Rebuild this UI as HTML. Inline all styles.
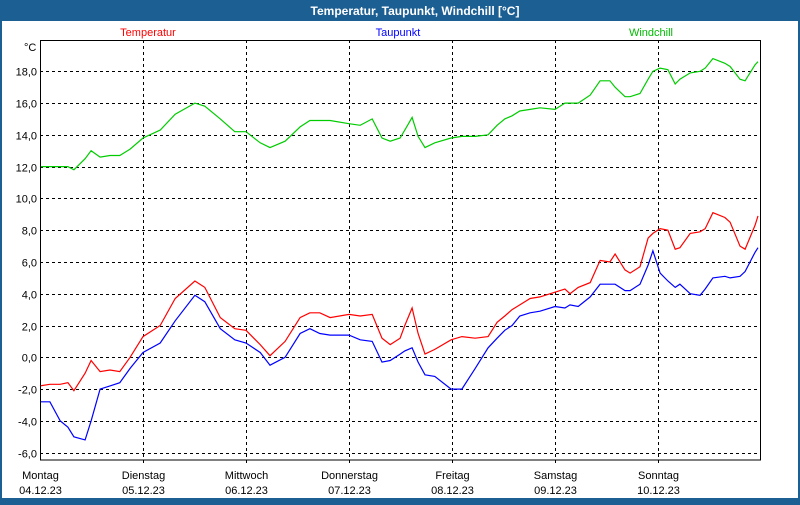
<!DOCTYPE html>
<html><head><meta charset="utf-8"><style>
html,body{margin:0;padding:0;background:#1c5f93;}
body{width:800px;height:500px;overflow:hidden;font-family:"Liberation Sans",sans-serif;}
</style></head><body>
<svg id="c" width="800" height="500" xmlns="http://www.w3.org/2000/svg">
<rect x="0" y="0" width="800" height="500" fill="#1c5f93"/>
<rect x="2" y="21" width="796" height="477" fill="#ffffff"/>
<text x="415" y="15" fill="#fff" font-size="12" font-weight="bold" text-anchor="middle">Temperatur, Taupunkt, Windchill [°C]</text>
<text x="148" y="36" fill="#ff0000" font-size="11" text-anchor="middle">Temperatur</text>
<text x="398" y="36" fill="#0000ff" font-size="11" text-anchor="middle">Taupunkt</text>
<text x="651" y="36" fill="#00bb00" font-size="11" text-anchor="middle">Windchill</text>
<text x="24" y="51" font-size="11">°C</text>
<g id="grid"></g><g id="series"></g>
<rect x="40.5" y="40.5" width="720" height="419.5" fill="none" stroke="#000" stroke-width="1"/>
</svg>
<script>
const hours=[0,2.3,4.7,6.5,7.9,10.5,11.9,14,16.3,18.6,21,24,28,31.5,36.1,38.4,42,45.4,48,51.3,53.6,57.1,60.6,62.9,65.2,67.6,72,74.6,77.4,79.7,81.6,83.9,85,86.7,88.1,89.7,92,95.8,98.3,101.4,104.4,106.5,108.3,110,111.8,114.2,116.5,120,122.3,123.5,125.4,128.2,130.5,132.8,134,136.3,137.5,139.8,141.7,142.8,144.5,146.3,148,149.1,151.5,153.8,155,156.8,159.6,160.8,163.1,164.3,166.6,167.3];
const temperatur=[-1.8,-1.7,-1.7,-1.6,-2.1,-1.0,-0.2,-0.9,-0.8,-0.9,0.0,1.3,2.0,3.7,4.8,4.4,2.5,1.8,1.7,0.8,0.1,1.0,2.5,2.8,2.8,2.5,2.7,2.6,2.7,1.2,0.8,1.2,2.0,3.1,1.5,0.2,0.5,1.1,1.3,1.2,1.3,2.2,2.6,3.0,3.3,3.7,3.8,4.1,4.3,4.0,4.4,4.7,6.1,6.0,6.5,5.5,5.3,5.7,7.5,7.8,8.1,8.0,6.8,6.9,7.8,7.9,8.1,9.1,8.8,8.5,7.0,6.8,8.3,8.9];
const taupunkt=[-2.8,-2.8,-4.0,-4.4,-5.0,-5.2,-4.0,-2.0,-1.8,-1.6,-0.7,0.3,0.9,2.3,3.9,3.5,1.8,1.1,0.9,0.3,-0.5,0.0,1.5,1.8,1.5,1.4,1.4,1.1,1.0,-0.3,-0.2,0.2,0.4,0.6,-0.3,-1.1,-1.2,-2.0,-2.0,-0.7,0.6,1.2,1.7,2.0,2.6,2.8,2.9,3.2,3.1,3.3,3.2,3.8,4.6,4.6,4.6,4.2,4.2,4.6,5.8,6.7,5.3,4.8,4.4,4.6,4.0,3.9,4.3,5.0,5.1,5.0,5.1,5.4,6.6,6.9];
const windchill=[12.0,12.0,12.0,12.0,11.8,12.5,13.0,12.6,12.7,12.7,13.1,13.8,14.3,15.3,16.0,15.8,15.0,14.2,14.2,13.5,13.2,13.6,14.5,14.9,14.9,14.9,14.7,14.6,15.0,13.8,13.6,13.8,14.3,15.1,13.9,13.2,13.5,13.8,13.9,13.9,14.0,14.6,15.0,15.2,15.5,15.6,15.7,15.6,16.0,16.0,16.0,16.5,17.4,17.4,17.0,16.4,16.4,16.6,17.5,18.0,18.2,18.1,17.2,17.5,17.9,18.0,18.2,18.8,18.5,18.3,17.5,17.4,18.4,18.6];
const yTicks=[-6,-4,-2,0,2,4,6,8,10,12,14,16,18];
const dayNames=["Montag","Dienstag","Mittwoch","Donnerstag","Freitag","Samstag","Sonntag"];
const dayDates=["04.12.23","05.12.23","06.12.23","07.12.23","08.12.23","09.12.23","10.12.23"];
const NS="http://www.w3.org/2000/svg";
const X=h=>40+h*103/24;
const Y=v=>357.3-v*15.89;
const grid=document.getElementById('grid'),ser=document.getElementById('series');
function mk(tag,attrs,parent){const e=document.createElementNS(NS,tag);for(const k in attrs)e.setAttribute(k,attrs[k]);parent.appendChild(e);return e;}
yTicks.forEach(v=>{
  const y=Math.round(Y(v))+0.5;
  const l=mk('line',{x1:40,x2:760,y1:y,y2:y,stroke:'#000','stroke-dasharray':'3,3'},grid);
  
  
  const t=mk('text',{x:37,y:y+4,'font-size':11,'text-anchor':'end'},grid);
  t.textContent=v.toFixed(1).replace('.',',');
  
  
});
dayNames.forEach((n,i)=>{
  const x=Math.round(X(i*24))+0.5;
  if(i>0){const l=mk('line',{x1:x,x2:x,y1:40,y2:464,stroke:'#000','stroke-dasharray':'3,3'},grid);
  
  }
  const t=mk('text',{x:x,y:479,'font-size':11,'text-anchor':'middle'},grid);
  t.textContent=n;
  
  
  const d=mk('text',{x:x,y:494,'font-size':11,'text-anchor':'middle'},grid);
  d.textContent=dayDates[i];
  
  
});
[[windchill,'#00cc00','windchill-line'],[temperatur,'#ff0000','temperatur-line'],[taupunkt,'#0000ff','taupunkt-line']].forEach(([vals,col,name])=>{
  const p=mk('polyline',{points:vals.map((v,i)=>X(hours[i]).toFixed(1)+','+Y(v).toFixed(1)).join(' '),fill:'none',stroke:col,'stroke-width':1.2},ser);
  
  
});
</script>
</body></html>
